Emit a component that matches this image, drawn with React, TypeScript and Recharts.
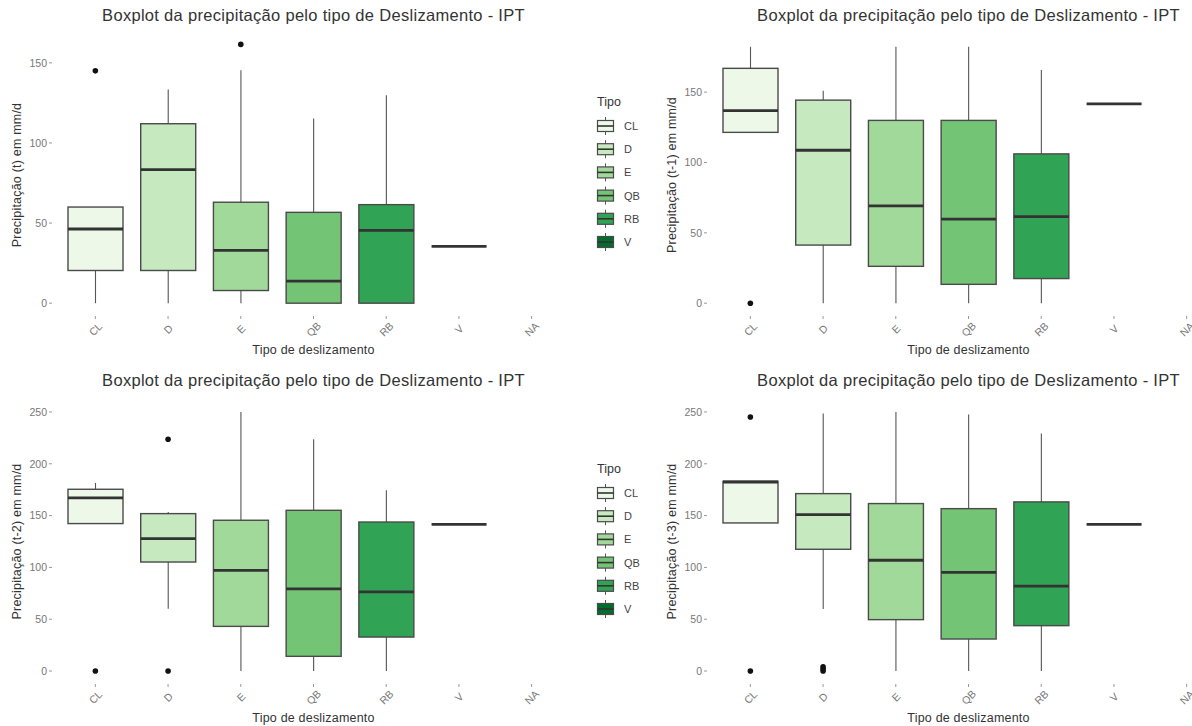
import { ComposedChart, Bar, Scatter, XAxis, YAxis, Legend } from "recharts";

const TIPOS = ["CL", "D", "E", "QB", "RB", "V", "NA"];
const FILLS = ["#edf8e9", "#c7e9c0", "#a1d99b", "#74c476", "#31a354", "#006d2c"];
const Y_TICKS_TOP_LEFT = [0, 50, 100, 150];
const Y_TICKS_TOP_RIGHT = [0, 50, 100, 150];
const Y_TICKS_BOTTOM = [0, 50, 100, 150, 200, 250];

// [whisker inf, Q1, mediana, Q3, whisker sup] por tipo, null = sem dados
const STATS_T0 = [
  [0, 20.4, 46.3, 60, 60],
  [0, 20.4, 83.4, 112, 133.4],
  [0, 7.9, 33, 63, 145.4],
  [0, 0, 13.8, 56.7, 115.2],
  [0, 0, 45.4, 61.5, 129.8],
  [35.4, 35.4, 35.4, 35.4, 35.4],
  null,
];
const OUT_T0 = [[145], [], [161.5], [], [], [], []];

const STATS_T1 = [
  [121.4, 121.4, 136.8, 166.9, 182.2],
  [0, 41.3, 108.7, 144.3, 150.9],
  [0, 26.2, 69.1, 129.9, 182.2],
  [0, 13.4, 59.7, 129.9, 182.2],
  [0, 17.5, 61.5, 106.1, 165.8],
  [141.7, 141.7, 141.7, 141.7, 141.7],
  null,
];
const OUT_T1 = [[0], [], [], [], [], [], []];

const STATS_T2 = [
  [142.3, 142.3, 167, 175.4, 181.5],
  [60.2, 105.2, 127.8, 151.9, 153.5],
  [0, 43.1, 97.2, 145.5, 250],
  [0, 14.2, 79.2, 155.1, 223.6],
  [0, 32.8, 76.3, 143.8, 174.4],
  [141.6, 141.6, 141.6, 141.6, 141.6],
  null,
];
const OUT_T2 = [[0], [0, 223.6], [], [], [], [], []];

const STATS_T3 = [
  [142.9, 142.9, 182.4, 183.1, 183.1],
  [59.8, 117.5, 151, 171.2, 248.4],
  [0, 49.6, 106.9, 161.6, 250],
  [0, 30.9, 95.3, 156.7, 247.5],
  [0, 43.8, 82, 163.2, 229.1],
  [141.6, 141.6, 141.6, 141.6, 141.6],
  null,
];
const OUT_T3 = [[0, 245.2], [0, 2, 4], [], [], [], [], []];

const TITLE = "Boxplot da precipitação pelo tipo de Deslizamento - IPT";
const X_TITLE = "Tipo de deslizamento";
const FONT = '"Liberation Sans", Arial, Helvetica, sans-serif';

const buildRows = (stats: any[], outs: number[][]) =>
  TIPOS.map((tipo, i) => {
    const s = stats[i];
    const row: any = { tipo, idx: i };
    if (s) {
      row.lo = s[0];
      row.q1 = s[1];
      row.med = s[2];
      row.q3 = s[3];
      row.hi = s[4];
    }
    (outs[i] || []).forEach((v, k) => (row["o" + k] = v));
    return row;
  });

// range used by the bar; zero-width boxes get a small span so the shape can scale
const span = (d: any) => (d.lo === d.hi ? [d.lo - 1, d.hi + 1] : [d.lo, d.hi]);
const rangeKey = (d: any) => (d.lo == null ? null : span(d));

function BoxShape(props: any) {
  const { x, y, width, height, payload } = props;
  if (!payload || payload.lo == null) return <g />;
  const [a, b] = span(payload);
  const top = Math.min(y, y + height);
  const bot = Math.max(y, y + height);
  const py = (v: number) => bot - ((v - a) / (b - a)) * (bot - top);
  const cx = x + width / 2;
  const fill = FILLS[payload.idx];
  return (
    <g>
      <line x1={cx} x2={cx} y1={py(payload.hi)} y2={py(payload.q3)} stroke="#555" strokeWidth={1.1} />
      <line x1={cx} x2={cx} y1={py(payload.q1)} y2={py(payload.lo)} stroke="#555" strokeWidth={1.1} />
      <rect
        x={x}
        y={py(payload.q3)}
        width={width}
        height={py(payload.q1) - py(payload.q3)}
        fill={fill}
        stroke="#4a4a4a"
        strokeWidth={1.4}
      />
      <line x1={x} x2={x + width} y1={py(payload.med)} y2={py(payload.med)} stroke="#333" strokeWidth={2.8} />
    </g>
  );
}

const outlierDot = (key: string) => (p: any) =>
  p.payload == null || p.payload[key] == null ? (
    <g />
  ) : (
    <circle cx={p.cx} cy={p.cy} r={2.8} fill="#111" />
  );

function RotTick(props: any) {
  const { x, y, payload } = props;
  const cy = y + 8;
  return (
    <text
      x={x}
      y={cy}
      textAnchor="middle"
      dominantBaseline="central"
      fontSize={10.5}
      fill="#777"
      fontFamily={FONT}
      transform={`rotate(-45 ${x} ${cy})`}
    >
      {payload.value}
    </text>
  );
}

function TipoLegend() {
  return (
    <svg width={60} height={160} style={{ display: "block", overflow: "visible" }}>
      <text x={1} y={10} dominantBaseline="central" fontSize={12.5} fill="#333" fontFamily={FONT}>
        Tipo
      </text>
      {TIPOS.slice(0, 6).map((t, i) => {
        const cy = 34 + i * 23.2;
        return (
          <g key={t}>
            <line x1={9.5} x2={9.5} y1={cy - 9} y2={cy + 9} stroke="#555" strokeWidth={1} />
            <rect x={1.5} y={cy - 5.5} width={16} height={11} fill={FILLS[i]} stroke="#4a4a4a" strokeWidth={1.2} />
            <line x1={1.5} x2={17.5} y1={cy} y2={cy} stroke="#333" strokeWidth={1.6} />
            <text x={28} y={cy} dominantBaseline="central" fontSize={11} fill="#444" fontFamily={FONT}>
              {t}
            </text>
          </g>
        );
      })}
    </svg>
  );
}

function Panel({
  left,
  top,
  height,
  marginTop,
  xAxisHeight,
  stats,
  outs,
  domain,
  ticks,
  yTitle,
  legendTop,
}: any) {
  const data = buildRows(stats, outs);
  return (
    <div style={{ position: "absolute", left, top }}>
      <div
        style={{
          position: "absolute",
          left: 52,
          width: 523,
          top: marginTop - 29,
          textAlign: "center",
          fontSize: 16.5,
          letterSpacing: 0.3,
          color: "#333",
          fontFamily: FONT,
          whiteSpace: "nowrap",
          lineHeight: "20px",
        }}
      >
        {TITLE}
      </div>
      <ComposedChart
        width={655}
        height={height}
        data={data}
        margin={{ top: marginTop, right: 80, left: 0, bottom: 0 }}
      >
        <XAxis
          dataKey="tipo"
          type="category"
          height={xAxisHeight}
          padding={{ left: 7, right: 7 }}
          axisLine={false}
          tickLine={{ stroke: "#999" }}
          tickSize={3}
          interval={0}
          tick={<RotTick />}
          label={{
            content: (p: any) => {
              const vb = p.viewBox;
              return (
                <text
                  x={vb.x + vb.width / 2}
                  y={vb.y + 34}
                  textAnchor="middle"
                  dominantBaseline="central"
                  fontSize={12.5}
                  letterSpacing={0.2}
                  fill="#333"
                  fontFamily={FONT}
                >
                  {X_TITLE}
                </text>
              );
            },
          }}
        />
        <YAxis
          type="number"
          domain={domain}
          ticks={ticks}
          allowDataOverflow
          width={52}
          axisLine={false}
          tickLine={{ stroke: "#999" }}
          tickSize={3}
          tick={{ fontSize: 10.5, fill: "#777", fontFamily: FONT }}
          label={{
            content: (p: any) => {
              const vb = p.viewBox;
              const cx = vb.x + 17;
              const cy = vb.y + vb.height / 2;
              return (
                <text
                  x={cx}
                  y={cy}
                  textAnchor="middle"
                  dominantBaseline="central"
                  fontSize={12.5}
                  letterSpacing={0.2}
                  fill="#333"
                  fontFamily={FONT}
                  transform={`rotate(-90 ${cx} ${cy})`}
                >
                  {yTitle}
                </text>
              );
            },
          }}
        />
        <Bar dataKey={rangeKey} barSize={55} shape={<BoxShape />} isAnimationActive={false} />
        <Scatter dataKey="o0" shape={outlierDot("o0")} isAnimationActive={false} />
        <Scatter dataKey="o1" shape={outlierDot("o1")} isAnimationActive={false} />
        <Scatter dataKey="o2" shape={outlierDot("o2")} isAnimationActive={false} />
        {legendTop != null && (
          <Legend
            layout="vertical"
            align="center"
            verticalAlign="middle"
            wrapperStyle={{ left: 596, top: legendTop, width: 60 }}
            content={() => <TipoLegend />}
          />
        )}
      </ComposedChart>
    </div>
  );
}

export default function App() {
  return (
    <div
      style={{
        position: "absolute",
        left: 0,
        top: 0,
        width: 1192,
        height: 726,
        overflow: "hidden",
        background: "#fff",
        fontFamily: FONT,
      }}
    >
      <Panel
        left={0}
        top={0}
        height={363}
        marginTop={34}
        xAxisHeight={47}
        stats={STATS_T0}
        outs={OUT_T0}
        domain={[-8, 168]}
        ticks={Y_TICKS_TOP_LEFT}
        yTitle="Precipitação (t) em mm/d"
        legendTop={92}
      />
      <Panel
        left={655}
        top={0}
        height={363}
        marginTop={34}
        xAxisHeight={47}
        stats={STATS_T1}
        outs={OUT_T1}
        domain={[-9.1, 191.3]}
        ticks={Y_TICKS_TOP_RIGHT}
        yTitle="Precipitação (t-1) em mm/d"
      />
      <Panel
        left={0}
        top={364}
        height={362}
        marginTop={35}
        xAxisHeight={42}
        stats={STATS_T2}
        outs={OUT_T2}
        domain={[-12.5, 262.5]}
        ticks={Y_TICKS_BOTTOM}
        yTitle="Precipitação (t-2) em mm/d"
        legendTop={95}
      />
      <Panel
        left={655}
        top={364}
        height={362}
        marginTop={35}
        xAxisHeight={42}
        stats={STATS_T3}
        outs={OUT_T3}
        domain={[-12.5, 262.5]}
        ticks={Y_TICKS_BOTTOM}
        yTitle="Precipitação (t-3) em mm/d"
      />
    </div>
  );
}
